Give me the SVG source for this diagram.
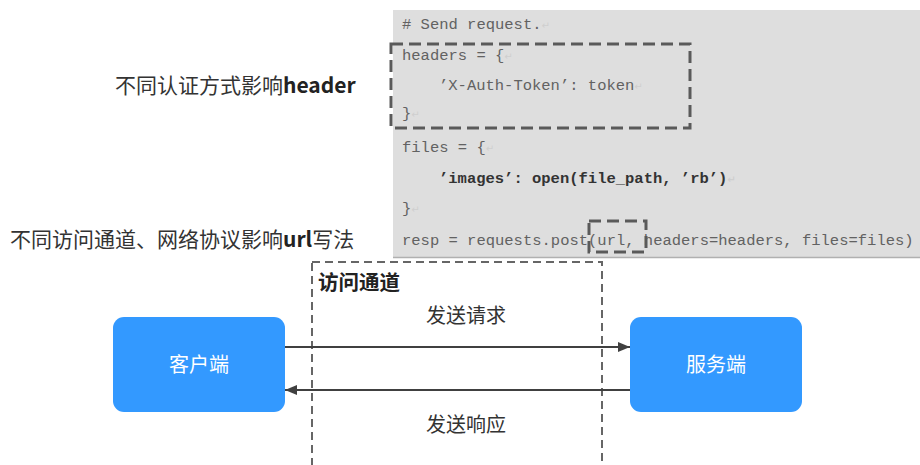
<svg xmlns="http://www.w3.org/2000/svg" width="920" height="465" viewBox="0 0 920 465">
  <defs>
    <marker id="arr" viewBox="0 0 12 10" refX="12" refY="5" markerWidth="12" markerHeight="10" markerUnits="userSpaceOnUse" orient="auto">
      <path d="M0,0 L12,5 L0,10 z" fill="#404040"/>
    </marker>
    <style>
      .code { font-family: "Liberation Mono", "DejaVu Sans Mono", monospace; font-size: 15.5px; fill: #626262; }
      .codeb { font-family: "Liberation Mono", "DejaVu Sans Mono", monospace; font-size: 15.5px; fill: #333333; font-weight: bold; }
      .pm { fill: #cfcfcf; font-size: 10px; font-family: "DejaVu Sans", sans-serif; }
      .lbl { font-family: "Noto Sans CJK SC", "Noto Sans", sans-serif; font-size: 21px; fill: #333333; }
      .node { fill: #3399ff; }
      .ntext { font-family: "Noto Sans CJK SC", "Noto Sans", sans-serif; font-size: 20px; fill: #ffffff; text-anchor: middle; }
      .ctext { font-family: "Noto Sans CJK SC", "Noto Sans", sans-serif; font-size: 20px; fill: #333333; text-anchor: middle; }
      .edge { stroke: #404040; stroke-width: 2; fill: none; }
      .hl { fill: none; stroke: #5a5a5a; stroke-width: 3; stroke-dasharray: 12 6; }
    </style>
  </defs>

  <g id="code-panel">
    <rect x="393" y="10" width="527" height="247" fill="#dedede"/>
    <line x1="393" y1="257.5" x2="920" y2="257.5" stroke="#b0b0b0" stroke-width="1.5"/>
    <text class="code" x="402" y="29"># Send request.<tspan class="pm">↵</tspan></text>
    <text class="code" x="402" y="60">headers = {<tspan class="pm">↵</tspan></text>
    <text class="code" x="439" y="90">’X-Auth-Token’: token<tspan class="pm">↵</tspan></text>
    <text class="code" x="402" y="118">}<tspan class="pm">↵</tspan></text>
    <text class="code" x="402" y="152">files = {<tspan class="pm">↵</tspan></text>
    <text class="codeb" x="439" y="183">’images’: open(file_path, ’rb’)<tspan class="pm">↵</tspan></text>
    <text class="code" x="402" y="213">}<tspan class="pm">↵</tspan></text>
    <text class="code" x="402" y="245">resp = requests.post(url, headers=headers, files=files)</text>
    <rect class="hl" x="391" y="44" width="299" height="84"/>
    <rect class="hl" x="589" y="221" width="57" height="31" stroke-dasharray="10 6"/>
  </g>

  <g id="label-header">
    <text class="lbl" x="115" y="93">不同认证方式影响<tspan font-weight="bold" fill="#222">header</tspan></text>
  </g>
  <g id="label-url">
    <text class="lbl" x="10" y="247">不同访问通道、网络协议影响<tspan font-weight="bold" fill="#222">url</tspan>写法</text>
  </g>

  <g id="channel">
    <rect x="312" y="262" width="290" height="215" fill="none" stroke="#666666" stroke-width="2" stroke-dasharray="8 5"/>
    <text x="318" y="290" font-family="'Noto Sans CJK SC', sans-serif" font-size="20.5px" font-weight="bold" fill="#222222">访问通道</text>
  </g>

  <g id="client">
    <rect class="node" x="113" y="317" width="172" height="95" rx="11"/>
    <text class="ntext" x="199" y="372">客户端</text>
  </g>
  <g id="server">
    <rect class="node" x="630" y="317" width="172" height="95" rx="11"/>
    <text class="ntext" x="716" y="372">服务端</text>
  </g>

  <g id="connectors">
    <line class="edge" x1="285" y1="347" x2="630" y2="347" marker-end="url(#arr)"/>
    <line class="edge" x1="630" y1="390" x2="285" y2="390" marker-end="url(#arr)"/>
    <text class="ctext" x="466" y="323">发送请求</text>
    <text class="ctext" x="466" y="432">发送响应</text>
  </g>
</svg>
